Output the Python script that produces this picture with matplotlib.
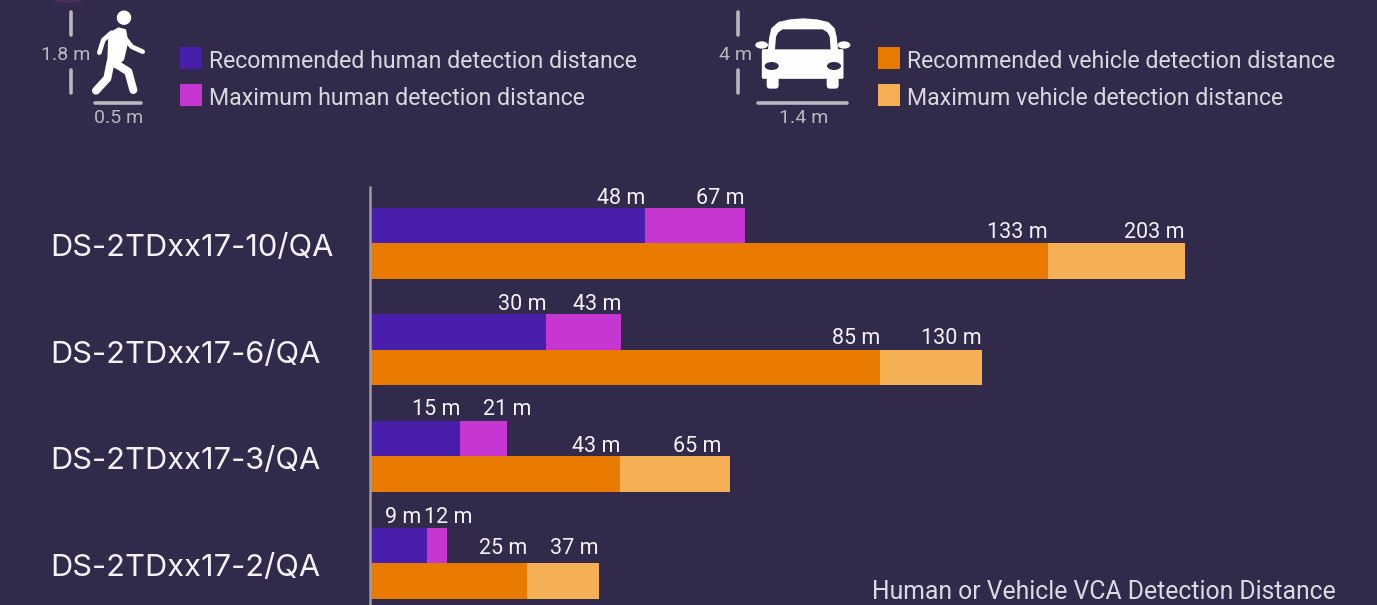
import matplotlib
matplotlib.use("Agg")
import matplotlib.pyplot as plt
from matplotlib.patches import Circle, Ellipse, Polygon, FancyBboxPatch, Rectangle

# ---- chart data ----
models = ["DS-2TDxx17-10/QA", "DS-2TDxx17-6/QA", "DS-2TDxx17-3/QA", "DS-2TDxx17-2/QA"]

# printed distances
human_rec = [48, 30, 15, 9]
human_max = [67, 43, 21, 12]
vehicle_rec = [133, 85, 43, 25]
vehicle_max = [203, 130, 65, 37]

# the bars in the picture are not to scale with the printed numbers, so lengths are read off separately
human_rec_len = [274, 175, 89, 56]
human_max_len = [374, 250, 136, 76]
vehicle_rec_len = [677, 509, 249, 156]
vehicle_max_len = [814, 611, 359, 228]

legend_human = ["Recommended human detection distance", "Maximum human detection distance"]
legend_vehicle = ["Recommended vehicle detection distance", "Maximum vehicle detection distance"]
footer = "Human or Vehicle VCA Detection Distance"

BG = "#312a4b"
C_HREC = "#481eaa"
C_HMAX = "#c636d0"
C_VREC = "#e97a00"
C_VMAX = "#f5b055"
GREY = "#b9b7bf"
TXT = "#f4f3f6"
FONT = "Roboto"

W, H = 1377, 605
plt.rcParams["font.family"] = [FONT, "DejaVu Sans"]

fig = plt.figure(figsize=(W / 100, H / 100), dpi=100, facecolor=BG)

#----------------------------------------------------------------------
# bar axes: starts at the vertical line, one unit of length = one pixel
ax = fig.add_axes([371 / W, 0, (W - 371) / W, 1])
ax.set_xlim(0, W - 371)
ax.set_ylim(H, 0)
ax.patch.set_alpha(0)
ax.axis("off")

row_y = [243.4, 349.8, 456.2, 563.4]
bar_h = 35.5
top_y = [y - bar_h / 2 for y in row_y]
bot_y = [y + bar_h / 2 for y in row_y]

ax.barh(top_y, human_max_len, height=bar_h, color=C_HMAX)
ax.barh(top_y, human_rec_len, height=bar_h, color=C_HREC)
ax.barh(bot_y, vehicle_max_len, height=bar_h, color=C_VMAX)
ax.barh(bot_y, vehicle_rec_len, height=bar_h, color=C_VREC)

# a few labels sit off the bar end, to stop them running together
nudge_hrec = [0, 0, 0, -6]
nudge_hmax = [0, 0, 24, 25]
nudge_vmax = [0, 0, -9, 0]
# baselines of the two label rows
human_label_y = [204, 310, 415, 523]
vehicle_label_y = [238, 344, 452, 554]

for i in range(len(models)):
    ax.text(human_rec_len[i] + nudge_hrec[i], human_label_y[i], f"{human_rec[i]} m", ha="right", va="baseline", color=TXT, fontsize=15.5)
    ax.text(human_max_len[i] + nudge_hmax[i], human_label_y[i], f"{human_max[i]} m", ha="right", va="baseline", color=TXT, fontsize=15.5)
    ax.text(vehicle_rec_len[i], vehicle_label_y[i], f"{vehicle_rec[i]} m", ha="right", va="baseline", color=TXT, fontsize=15.5)
    ax.text(vehicle_max_len[i] + nudge_vmax[i], vehicle_label_y[i], f"{vehicle_max[i]} m", ha="right", va="baseline", color=TXT, fontsize=15.5)

#----------------------------------------------------------------------
# overlay in pixel coordinates for everything that isn't a bar
ov = fig.add_axes([0, 0, 1, 1])
ov.set_xlim(0, W)
ov.set_ylim(H, 0)
ov.patch.set_alpha(0)
ov.axis("off")

ov.plot([370.3, 370.3], [186, 605], color="#9c9aa3", lw=1.8, solid_capstyle="butt")

for i, name in enumerate(models):
    ov.text(50, row_y[i] + 13, name, ha="left", va="baseline", color=TXT, fontsize=22.2, family=["Inter", "DejaVu Sans"])

ov.text(1336, 599, footer, ha="right", va="baseline", color="#dcdbe2", fontsize=17.8)

# legend
for x, labels, cols in [(180, legend_human, (C_HREC, C_HMAX)), (878, legend_vehicle, (C_VREC, C_VMAX))]:
    for y, lab, col in zip((47, 84), labels, cols):
        ov.add_patch(Rectangle((x, y), 22, 22, color=col, lw=0))
        ov.text(x + 29, y + 21, lab, ha="left", va="baseline", color="#d9d8de", fontsize=16.65)

# faint circle cut off at the top edge
ov.add_patch(Ellipse((68, -6), 42, 18, color="#4a2f5e", lw=0))

#----------------------------------------------------------------------
def walker():
    # coordinates taken from a 3x crop of the icon
    z = lambda pts: [(x / 3, y / 3) for x, y in pts]
    ov.add_patch(Circle((124, 17.7), 7.2, color="white", lw=0))
    ov.add_patch(Polygon(z([(325, 100), (355, 82), (378, 88), (385, 125), (372, 180), (345, 205), (322, 180)]), color="white", lw=0))
    for pts, w in [([(335, 98), (310, 120), (298, 158)], 14),
                   ([(378, 118), (395, 140), (428, 155)], 14),
                   ([(332, 185), (322, 235), (288, 272)], 24),
                   ([(345, 190), (385, 215), (400, 270)], 24)]:
        p = z(pts)
        ov.plot([a[0] for a in p], [a[1] for a in p], color="white", lw=w / 3 * 0.72,
                solid_capstyle="round", solid_joinstyle="round")
    for xs, ys in [([71, 71], [12, 35]), ([71, 71], [70, 93]), ([95, 141], [103, 103])]:
        ov.plot(xs, ys, color=GREY, lw=2.6, solid_capstyle="round")
    ov.text(66, 60, "1.8 m", ha="center", va="baseline", color=GREY, fontsize=14)
    ov.text(119, 123, "0.5 m", ha="center", va="baseline", color=GREY, fontsize=14)


def car():
    z = lambda pts: [(700 + x / 3, y / 3) for x, y in pts]
    ov.add_patch(Polygon(z([(203, 155), (208, 110), (214, 85), (235, 66), (270, 58), (310, 55), (350, 58), (385, 66), (404, 85), (410, 110), (415, 155)]), color="white", lw=0))
    ov.add_patch(FancyBboxPatch((700 + 190 / 3, 152 / 3), 236 / 3, 80 / 3, boxstyle="round,pad=1.5", color="white", lw=0))
    ov.add_patch(Polygon(z([(225, 148), (228, 110), (235, 97), (248, 88), (368, 88), (382, 97), (389, 110), (392, 148)]), color=BG, lw=0))
    for cx in (218, 398):
        ov.add_patch(FancyBboxPatch((700 + (cx - 8) / 3, 240 / 3), 16 / 3, 16 / 3, boxstyle="round,pad=3.3", color="white", lw=0))
    for cx in (185, 432):
        ov.add_patch(Ellipse((700 + cx / 3, 135 / 3), 38 / 3, 22 / 3, color="white", lw=0))
    for cx in (215, 402):
        ov.add_patch(Ellipse((700 + cx / 3, 198 / 3), 42 / 3, 24 / 3, color=BG, lw=0))
    for xs, ys in [([738, 738], [12, 35]), ([738, 738], [70, 93]), ([758, 847], [103, 103])]:
        ov.plot(xs, ys, color=GREY, lw=2.6, solid_capstyle="round")
    ov.text(736, 60, "4 m", ha="center", va="baseline", color=GREY, fontsize=14)
    ov.text(804, 123, "1.4 m", ha="center", va="baseline", color=GREY, fontsize=14)


walker()
car()

fig.savefig("out.png", dpi=100, facecolor=BG)
